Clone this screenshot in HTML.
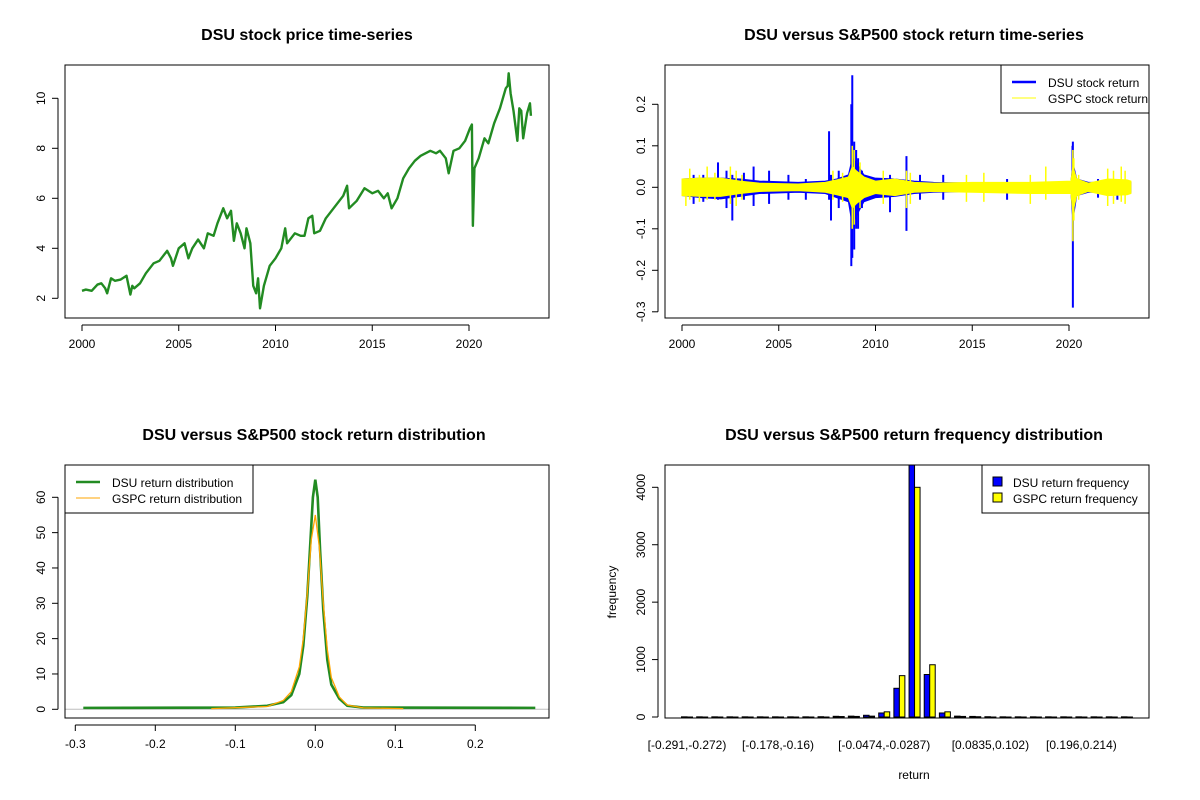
<!DOCTYPE html>
<html><head><meta charset="utf-8"><style>
html,body{margin:0;padding:0;background:#fff;}
svg{display:block;font-family:"Liberation Sans",Arial,sans-serif;}
</style></head><body>
<svg id="c" width="1200" height="800" xmlns="http://www.w3.org/2000/svg"></svg>
<script>
// ---- price series (DSU) ----
const priceYears=[2000,2000.2,2000.5,2000.8,2001,2001.2,2001.3,2001.5,2001.7,2002,2002.3,2002.5,2002.6,2002.7,2003,2003.3,2003.5,2003.7,2004,2004.2,2004.4,2004.6,2004.7,2005,2005.3,2005.5,2005.7,2006,2006.3,2006.5,2006.8,2007,2007.3,2007.5,2007.7,2007.85,2008.0,2008.2,2008.4,2008.5,2008.7,2008.85,2009,2009.1,2009.2,2009.4,2009.7,2010,2010.3,2010.5,2010.6,2011,2011.3,2011.5,2011.7,2011.9,2012,2012.3,2012.6,2013,2013.3,2013.5,2013.7,2013.8,2014.2,2014.6,2015,2015.3,2015.6,2015.8,2016,2016.3,2016.6,2016.9,2017.2,2017.5,2018,2018.3,2018.5,2018.8,2018.95,2019.2,2019.5,2019.8,2020.05,2020.15,2020.2,2020.28,2020.5,2020.8,2021,2021.3,2021.6,2021.9,2022,2022.05,2022.15,2022.3,2022.5,2022.6,2022.7,2022.8,2023,2023.15,2023.2];
const priceValues=[2.3,2.35,2.3,2.55,2.6,2.4,2.2,2.8,2.7,2.75,2.9,2.15,2.5,2.4,2.6,3.0,3.2,3.4,3.5,3.7,3.9,3.6,3.3,4.0,4.2,3.6,4.0,4.35,4.0,4.6,4.5,5.0,5.6,5.2,5.5,4.3,5.0,4.6,4.0,4.8,4.2,2.5,2.2,2.8,1.6,2.5,3.3,3.6,4.0,4.8,4.2,4.6,4.5,4.5,5.2,5.3,4.6,4.7,5.2,5.6,5.9,6.1,6.5,5.6,5.9,6.4,6.2,6.3,6.0,6.2,5.6,6.0,6.8,7.2,7.5,7.7,7.9,7.8,7.9,7.6,7.0,7.9,8.0,8.3,8.8,8.95,4.9,7.2,7.6,8.4,8.2,9.0,9.6,10.4,10.5,11.0,10.2,9.5,8.3,9.6,9.5,8.4,9.4,9.8,9.3];
const yearTicks=[2000,2005,2010,2015,2020];
const priceTicks=[2,4,6,8,10];
// ---- return bands ----
const retYears=[2000,2001,2002,2003,2004,2006,2007.4,2008.0,2008.6,2008.8,2009.0,2009.4,2010,2011,2012,2013,2015,2018,2020.1,2020.2,2020.4,2021,2022,2023,2023.2];
const dsuHigh=[0.02,0.022,0.022,0.02,0.015,0.012,0.015,0.02,0.03,0.07,0.06,0.03,0.022,0.02,0.015,0.012,0.01,0.01,0.012,0.06,0.02,0.012,0.012,0.012,0.012];
const dsuLow=[-0.02,-0.025,-0.028,-0.022,-0.015,-0.012,-0.015,-0.025,-0.035,-0.09,-0.07,-0.035,-0.025,-0.022,-0.015,-0.012,-0.01,-0.01,-0.012,-0.08,-0.02,-0.012,-0.012,-0.012,-0.012];
const gspcHigh=[0.02,0.022,0.022,0.015,0.01,0.008,0.012,0.018,0.025,0.05,0.04,0.025,0.015,0.02,0.012,0.01,0.012,0.012,0.015,0.05,0.02,0.01,0.02,0.018,0.015];
const gspcLow=[-0.02,-0.022,-0.022,-0.015,-0.01,-0.008,-0.012,-0.018,-0.025,-0.05,-0.04,-0.025,-0.015,-0.02,-0.012,-0.01,-0.012,-0.015,-0.015,-0.06,-0.02,-0.01,-0.02,-0.018,-0.015];
const dsuSpikeYears=[2000.6,2001.1,2001.86,2002.3,2002.6,2003.2,2003.7,2004.5,2005.5,2006.4,2007.6,2007.7,2008.1,2008.75,2008.8,2008.9,2009.0,2009.1,2009.3,2010.75,2011.6,2012.3,2013.5,2016.8,2020.18,2020.2,2021.5,2022.5];
const dsuSpikeHigh=[0.03,0.03,0.06,0.04,0.03,0.035,0.05,0.04,0.03,0.02,0.135,0.03,0.04,0.2,0.27,0.11,0.09,0.07,0.04,0.03,0.075,0.03,0.03,0.02,0.1,0.11,0.02,0.02];
const dsuSpikeLow=[-0.04,-0.035,-0.03,-0.05,-0.08,-0.03,-0.045,-0.04,-0.03,-0.03,-0.03,-0.08,-0.05,-0.19,-0.17,-0.15,-0.1,-0.1,-0.05,-0.06,-0.105,-0.03,-0.03,-0.03,-0.05,-0.29,-0.025,-0.03];
const gspcSpikeYears=[2000.2,2000.4,2000.9,2001.3,2001.7,2002.5,2002.8,2003.1,2007.8,2008.3,2008.8,2008.9,2009.2,2010.4,2011.6,2011.8,2014.7,2015.6,2018.0,2018.8,2020.2,2020.25,2020.5,2022.0,2022.3,2022.7,2022.9];
const gspcSpikeHigh=[0.02,0.045,0.03,0.05,0.035,0.05,0.04,0.03,0.04,0.035,0.1,0.09,0.06,0.04,0.04,0.035,0.03,0.035,0.03,0.05,0.09,0.07,0.03,0.045,0.04,0.05,0.04];
const gspcSpikeLow=[-0.045,-0.03,-0.035,-0.03,-0.03,-0.04,-0.045,-0.03,-0.03,-0.035,-0.1,-0.09,-0.05,-0.04,-0.05,-0.04,-0.035,-0.035,-0.04,-0.03,-0.13,-0.08,-0.03,-0.045,-0.04,-0.035,-0.04];
const retTicks=[-0.3,-0.2,-0.1,0.0,0.1,0.2];
// ---- density ----
const dsuDensX=[-0.29,-0.1,-0.06,-0.04,-0.03,-0.02,-0.015,-0.01,-0.006,-0.003,0,0.003,0.006,0.01,0.015,0.02,0.03,0.04,0.06,0.275];
const dsuDensY=[0.4,0.5,1,2,4,10,18,32,48,60,65,60,45,28,14,7,3,1,0.5,0.4];
const gspcDensX=[-0.13,-0.06,-0.04,-0.03,-0.02,-0.015,-0.01,-0.005,0,0.005,0.01,0.015,0.02,0.03,0.04,0.06,0.11];
const gspcDensY=[0.2,0.8,2.5,5,12,20,33,48,55,46,30,17,9,3.5,1.2,0.4,0.2];
const densXTicks=[-0.3,-0.2,-0.1,0.0,0.1,0.2];
const densYTicks=[0,10,20,30,40,50,60];
// ---- histogram ----
const binLabels=["[-0.291,-0.272)","[-0.178,-0.16)","[-0.0474,-0.0287)","[0.0835,0.102)","[0.196,0.214)"];
const binLabelIdx=[0,6,13,20,26];
const dsuFreq=[3,3,3,3,3,3,3,3,3,5,12,15,30,70,500,4400,740,70,15,10,5,3,3,3,3,3,3,3,3,3];
const gspcFreq=[0,0,0,0,0,0,0,0,0,0,8,10,15,90,720,4000,910,90,10,5,0,0,0,0,0,0,0,0,0,0];
const freqTicks=[0,1000,2000,3000,4000];

const svg=document.getElementById('c');
const NS='http://www.w3.org/2000/svg';
function mk(tag,attrs,parent){const e=document.createElementNS(NS,tag);for(const k in attrs)e.setAttribute(k,attrs[k]);(parent||svg).appendChild(e);return e;}
function txt(s,x,y,size,anchor,extra,parent){const t=mk('text',Object.assign({x:x,y:y,'font-size':size,'text-anchor':anchor||'middle',fill:'#000'},extra||{}),parent);t.textContent=s;return t;}
function lin(d0,d1,r0,r1){return v=>r0+(v-d0)*(r1-r0)/(d1-d0);}
function box(g,x0,y0,x1,y1){mk('rect',{x:x0,y:y0,width:x1-x0,height:y1-y0,fill:'none',stroke:'#000','stroke-width':1},g);}
function xaxis(g,ticks,sx,yb,fmt){mk('line',{x1:sx(ticks[0]),x2:sx(ticks[ticks.length-1]),y1:yb+7,y2:yb+7,stroke:'#000'},g);ticks.forEach(t=>{mk('line',{x1:sx(t),x2:sx(t),y1:yb+7,y2:yb+13,stroke:'#000'},g);const e=txt(fmt(t),sx(t),yb+30,12,'middle',null,g);});}
function yaxis(g,ticks,sy,xl,fmt){mk('line',{x1:xl-7,x2:xl-7,y1:sy(ticks[0]),y2:sy(ticks[ticks.length-1]),stroke:'#000'},g);ticks.forEach(t=>{mk('line',{x1:xl-7,x2:xl-13,y1:sy(t),y2:sy(t),stroke:'#000'},g);const e=txt(fmt(t),xl-20,sy(t),12,'middle',{transform:`rotate(-90 ${xl-20} ${sy(t)})`},g);});}
function grp(name){const g=mk('g',{});return g;}

// Panel 1: price
(function(){
const g=grp('price-panel');
const sx=lin(2000,2020,82,469), sy=lin(2,10,298.3,98.3);
const t=txt('DSU stock price time-series',307,40,16,'middle',{'font-weight':'bold'},g);

const p=mk('polyline',{points:priceYears.map((y,i)=>sx(y)+','+sy(priceValues[i])).join(' '),fill:'none',stroke:'#228B22','stroke-width':2.4,'stroke-linejoin':'round'},g);

box(g,65,65,549,318);
xaxis(g,yearTicks,sx,318,v=>String(v));
yaxis(g,priceTicks,sy,65,v=>String(v));
})();

// Panel 2: returns
(function(){
const g=grp('returns-panel');
const sx=lin(2000,2020,682,1069), sy=lin(0,0.2,187.3,104.3);
const t=txt('DSU versus S&P500 stock return time-series',914,40,16,'middle',{'font-weight':'bold'},g);

function env(hi,lo,col,name){const pts=retYears.map((y,i)=>sx(y)+','+sy(hi[i])).concat(retYears.slice().reverse().map((y,j)=>{const i=retYears.length-1-j;return sx(y)+','+sy(lo[i]);}));const e=mk('polygon',{points:pts.join(' '),fill:col,stroke:col,'stroke-width':1},g);}
env(dsuHigh,dsuLow,'#0000FF','dsu-return-band');
dsuSpikeYears.forEach((y,i)=>{const l=mk('line',{x1:sx(y),x2:sx(y),y1:sy(dsuSpikeHigh[i]),y2:sy(dsuSpikeLow[i]),stroke:'#0000FF','stroke-width':2},g);});
env(gspcHigh,gspcLow,'#FFFF00','gspc-return-band');
gspcSpikeYears.forEach((y,i)=>{const l=mk('line',{x1:sx(y),x2:sx(y),y1:sy(gspcSpikeHigh[i]),y2:sy(gspcSpikeLow[i]),stroke:'#FFFF00','stroke-width':1.5},g);});
box(g,665,65,1149,318);
xaxis(g,yearTicks,sx,318,v=>String(v));
yaxis(g,retTicks,sy,665,v=>v.toFixed(1));
const lg=mk('g',{},g);
mk('rect',{x:1001,y:65,width:148,height:48,fill:'#fff',stroke:'#000'},lg);
mk('line',{x1:1012,x2:1036,y1:82,y2:82,stroke:'#0000FF','stroke-width':2.5},lg);
mk('line',{x1:1012,x2:1036,y1:98,y2:98,stroke:'#FFFF00','stroke-width':1},lg);
txt('DSU stock return',1048,87,12,'start',null,lg);
txt('GSPC stock return',1048,103,12,'start',null,lg);
})();

// Panel 3: density
(function(){
const g=grp('density-panel');
const sx=lin(0,0.1,315.3,395.3), sy=lin(0,60,709.3,497.3);
const t=txt('DSU versus S&P500 stock return distribution',314,440,16,'middle',{'font-weight':'bold'},g);

mk('line',{x1:65,x2:549,y1:sy(0),y2:sy(0),stroke:'#BEBEBE'},g);
const d=mk('polyline',{points:dsuDensX.map((x,i)=>sx(x)+','+sy(dsuDensY[i])).join(' '),fill:'none',stroke:'#228B22','stroke-width':2.6},g);

const o=mk('polyline',{points:gspcDensX.map((x,i)=>sx(x)+','+sy(gspcDensY[i])).join(' '),fill:'none',stroke:'#FFA500','stroke-width':1.3},g);

box(g,65,465,549,718);
xaxis(g,densXTicks,sx,718,v=>v.toFixed(1));
yaxis(g,densYTicks,sy,65,v=>String(v));
const lg=mk('g',{},g);
mk('rect',{x:65,y:465,width:188,height:48,fill:'#fff',stroke:'#000'},lg);
mk('line',{x1:76,x2:100,y1:482,y2:482,stroke:'#228B22','stroke-width':2.5},lg);
mk('line',{x1:76,x2:100,y1:498,y2:498,stroke:'#FFA500','stroke-width':1},lg);
txt('DSU return distribution',112,487,12,'start',null,lg);
txt('GSPC return distribution',112,503,12,'start',null,lg);
})();

// Panel 4: histogram
(function(){
const g=grp('histogram-panel');
const sy=lin(0,4000,717,487.3);
const cx=i=>687+i*15.17;
const t=txt('DSU versus S&P500 return frequency distribution',914,440,16,'middle',{'font-weight':'bold'},g);

const clip=mk('clipPath',{id:'hc'},g);mk('rect',{x:665,y:465,width:484,height:253},clip);
const bars=mk('g',{'clip-path':'url(#hc)'},g);
dsuFreq.forEach((v,i)=>{const y=sy(v);const r=mk('rect',{x:cx(i)-5.5,y:y,width:5.5,height:Math.max(0.01,717-y),fill:'#0000FF',stroke:'#000','stroke-width':1},bars);});
gspcFreq.forEach((v,i)=>{const y=sy(v);const r=mk('rect',{x:cx(i),y:y,width:5.5,height:Math.max(0.01,717-y),fill:'#FFFF00',stroke:'#000','stroke-width':1},bars);});
box(g,665,465,1149,718);
yaxis(g,freqTicks,sy,665,v=>String(v));
binLabels.forEach((s,k)=>{const e=txt(s,cx(binLabelIdx[k]),749,12,'middle',null,g);});
const xl=txt('return',914,779,12,'middle',null,g);
const yl=txt('frequency',616,592,12,'middle',{transform:'rotate(-90 616 592)'},g);
const lg=mk('g',{},g);
mk('rect',{x:982,y:465,width:167,height:48,fill:'#fff',stroke:'#000'},lg);
mk('rect',{x:993,y:477,width:9,height:9,fill:'#0000FF',stroke:'#000'},lg);
mk('rect',{x:993,y:493,width:9,height:9,fill:'#FFFF00',stroke:'#000'},lg);
txt('DSU return frequency',1013,487,12,'start',null,lg);
txt('GSPC return frequency',1013,503,12,'start',null,lg);
})();
</script>
</body></html>
